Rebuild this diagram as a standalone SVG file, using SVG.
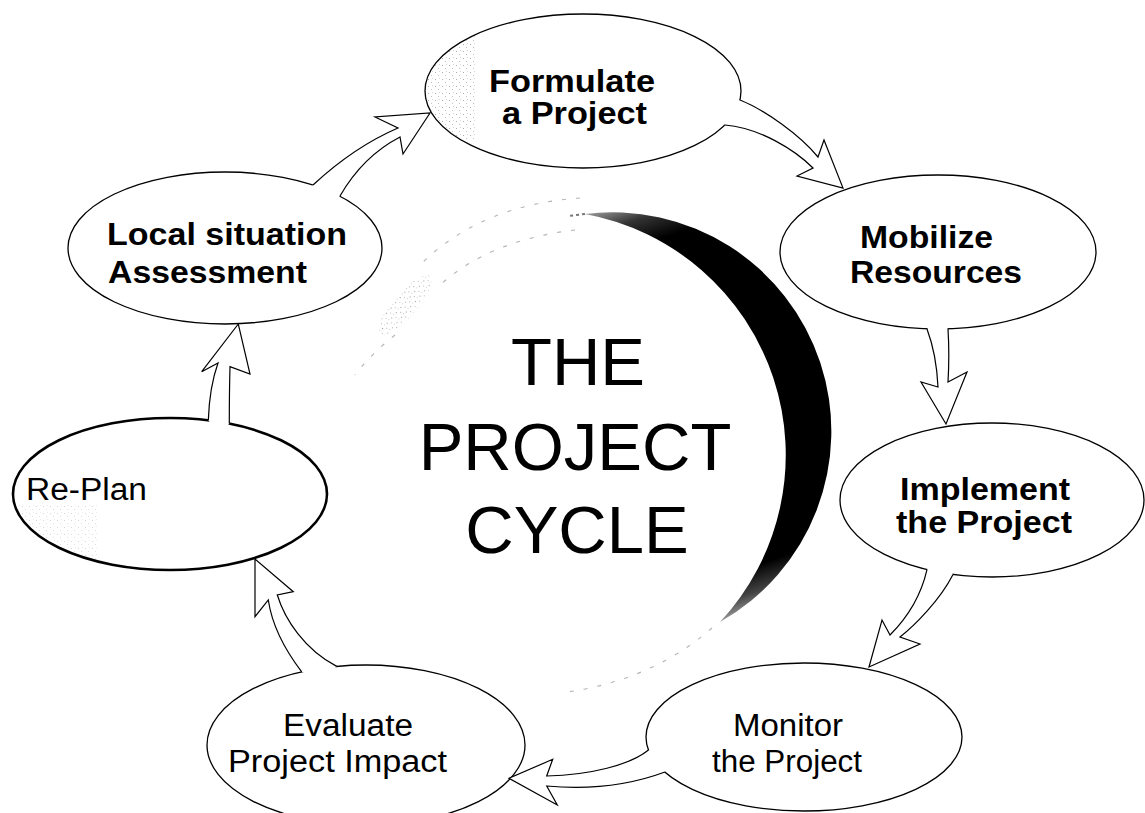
<svg xmlns="http://www.w3.org/2000/svg" width="1145" height="813" viewBox="0 0 1145 813">
<style>
.node ellipse{fill:#fff;stroke:#000;stroke-width:1.3}
.b{font-family:"Liberation Sans",Arial,sans-serif;font-weight:bold;font-size:31px;fill:#000}
.r{font-family:"Liberation Sans",Arial,sans-serif;font-size:31px;fill:#000}
.big{font-family:"Liberation Sans",Arial,sans-serif;font-size:67px;fill:#000;text-anchor:middle}
.af{fill:#fff;stroke:none}
.as{fill:none;stroke:#000;stroke-width:1.2;stroke-linejoin:miter}
.faint{fill:none;stroke:#b4b4b4;stroke-width:1.1;stroke-dasharray:4 10}
</style>
<defs>
<linearGradient id="brush" gradientUnits="userSpaceOnUse" x1="585" y1="214" x2="720" y2="622">
<stop offset="0" stop-color="#999"/>
<stop offset="0.05" stop-color="#333"/>
<stop offset="0.11" stop-color="#000"/>
<stop offset="0.9" stop-color="#000"/>
<stop offset="0.96" stop-color="#444"/>
<stop offset="1" stop-color="#999"/>
</linearGradient>
<pattern id="sp" width="7" height="7" patternUnits="userSpaceOnUse">
<rect x="1" y="2" width="1" height="1" fill="#777"/>
<rect x="4" y="5" width="1" height="1" fill="#999"/>
<rect x="5" y="1" width="1" height="1" fill="#bbb"/>
</pattern>
<clipPath id="cF"><ellipse cx="583" cy="91" rx="157" ry="76"/></clipPath>
<clipPath id="cR"><ellipse cx="170" cy="494" rx="155" ry="74"/></clipPath>
</defs>
<rect width="1145" height="813" fill="#fff"/>

<g id="center-art">
<path d="M 585,214 A 219 219 0 0 1 720,622 A 245 245 0 0 0 585,214 Z" fill="url(#brush)"/>
<path d="M 585,214 L 568,216" stroke="#777" stroke-width="2" stroke-dasharray="3 3"/>
<path class="faint" d="M 580,198 Q 480,205 420,265"/>
<path class="faint" d="M 575,230 Q 490,240 440,285"/>
<ellipse cx="405" cy="305" rx="38" ry="12" transform="rotate(-49 405 305)" fill="url(#sp)" opacity="0.7"/>
<path class="faint" d="M 395,335 Q 370,355 355,375"/>
<path class="faint" d="M 712,628 Q 650,682 560,693"/>
<text class="big" x="578" y="385">THE</text>
<text class="big" x="575" y="470">PROJECT</text>
<text class="big" x="577" y="553">CYCLE</text>
</g>

<g id="node-formulate" class="node">
<ellipse cx="583" cy="91" rx="158" ry="77"/>
<rect x="425" y="20" width="52" height="120" fill="url(#sp)" clip-path="url(#cF)" opacity="0.6"/>
<text class="b" x="489" y="92" textLength="166" lengthAdjust="spacingAndGlyphs">Formulate</text>
<text class="b" x="502" y="124" textLength="145" lengthAdjust="spacingAndGlyphs">a Project</text>
</g>

<g id="node-mobilize" class="node">
<ellipse cx="938" cy="252" rx="158" ry="77"/>
<text class="b" x="860" y="248" textLength="133" lengthAdjust="spacingAndGlyphs">Mobilize</text>
<text class="b" x="850" y="283" textLength="172" lengthAdjust="spacingAndGlyphs">Resources</text>
</g>

<g id="node-implement" class="node">
<ellipse cx="992" cy="500" rx="152" ry="77"/>
<text class="b" x="900" y="500" textLength="170" lengthAdjust="spacingAndGlyphs">Implement</text>
<text class="b" x="896" y="533" textLength="176" lengthAdjust="spacingAndGlyphs">the Project</text>
</g>

<g id="node-monitor" class="node">
<ellipse cx="804" cy="737" rx="158" ry="74"/>
<text class="r" x="733" y="736" textLength="110" lengthAdjust="spacingAndGlyphs">Monitor</text>
<text class="r" x="712" y="772" textLength="150" lengthAdjust="spacingAndGlyphs">the Project</text>
</g>

<g id="node-evaluate" class="node">
<ellipse cx="366" cy="745" rx="159" ry="80"/>
<text class="r" x="283" y="736" textLength="130" lengthAdjust="spacingAndGlyphs">Evaluate</text>
<text class="r" x="228" y="772" textLength="219" lengthAdjust="spacingAndGlyphs">Project Impact</text>
</g>

<g id="node-replan" class="node">
<ellipse cx="170" cy="494" rx="157" ry="76" style="stroke-width:2.6"/>
<rect x="18" y="505" width="80" height="60" fill="url(#sp)" clip-path="url(#cR)" opacity="0.3"/>
<text class="r" x="26" y="500" textLength="121" lengthAdjust="spacingAndGlyphs">Re-Plan</text>
</g>

<g id="node-local" class="node">
<ellipse cx="225" cy="248" rx="157" ry="76"/>
<text class="b" x="107" y="245" textLength="240" lengthAdjust="spacingAndGlyphs">Local situation</text>
<text class="b" x="108" y="283" textLength="199" lengthAdjust="spacingAndGlyphs">Assessment</text>
</g>

<g id="connectors">
<g id="arrow-local-formulate">
<path class="af" d="M 313,185 C 340,160 370,140 398,128 L 375,117 L 430,113 L 403,154 L 400,137 C 375,150 355,170 340,196 L 330,205 L 305,195 Z"/>
<path class="as" d="M 313,185 C 340,160 370,140 398,128 L 375,117 L 430,113 L 403,154 L 400,137 C 375,150 355,170 340,196"/>
</g>
<g id="arrow-formulate-mobilize">
<path class="af" d="M 740,100 C 765,110 800,135 818,157 L 824,140 L 843,188 L 797,176 L 813,168 C 795,150 760,128 725,125 L 715,112 Z"/>
<path class="as" d="M 740,100 C 765,110 800,135 818,157 L 824,140 L 843,188 L 797,176 L 813,168 C 795,150 760,128 725,125"/>
</g>
<g id="arrow-mobilize-implement">
<path class="af" d="M 927,329 C 933,345 937,365 938,387 L 921,382 L 946,424 L 967,372 L 948,382 C 949,365 949,345 948,329 L 938,318 Z"/>
<path class="as" d="M 927,329 C 933,345 937,365 938,387 L 921,382 L 946,424 L 967,372 L 948,382 C 949,365 949,345 948,329"/>
</g>
<g id="arrow-implement-monitor">
<path class="af" d="M 927,569.6 C 920,600 905,620 890,635 L 882,620 L 869,667 L 920,644 L 900,637 C 915,625 940,600 953,574.4 L 945,560 Z"/>
<path class="as" d="M 927,569.6 C 920,600 905,620 890,635 L 882,620 L 869,667 L 920,644 L 900,637 C 915,625 940,600 953,574.4"/>
</g>
<g id="arrow-monitor-evaluate">
<path class="af" d="M 648.5,750 C 630,765 590,775 546.7,776 L 552.7,759.3 L 509,778.3 L 557.3,805 L 546.7,786 C 590,790 630,785 665,772 L 665,755 Z"/>
<path class="as" d="M 648.5,750 C 630,765 590,775 546.7,776 L 552.7,759.3 L 509,778.3 L 557.3,805 L 546.7,786 C 590,790 630,785 665,772"/>
</g>
<g id="arrow-evaluate-replan">
<path class="af" d="M 301.7,671.8 C 285,650 272,625 268.3,600 L 255,616.7 L 255,559 L 293.3,591.7 L 277.3,595 C 285,620 305,650 336.7,666.4 L 320,680 Z"/>
<path class="as" d="M 301.7,671.8 C 285,650 272,625 268.3,600 L 255,616.7 L 255,559 L 293.3,591.7 L 277.3,595 C 285,620 305,650 336.7,666.4"/>
</g>
<g id="arrow-replan-local">
<path class="af" d="M 208.3,420.3 C 209,400 212,380 218,363 L 201.7,371.7 L 238.3,324 L 250,374 L 230,366.7 C 229.5,385 229.3,405 229.3,423.6 L 220,435 Z"/>
<path class="as" d="M 208.3,420.3 C 209,400 212,380 218,363 L 201.7,371.7 L 238.3,324 L 250,374 L 230,366.7 C 229.5,385 229.3,405 229.3,423.6"/>
</g>
</g>
</svg>
